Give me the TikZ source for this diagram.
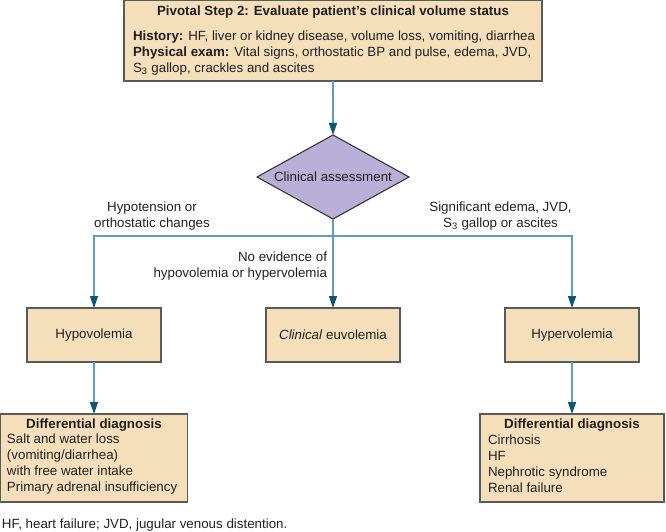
\documentclass[tikz,border=0pt]{standalone}
\usepackage{fontspec}
\setmainfont{Liberation Sans}
\usetikzlibrary{shapes.geometric,arrows.meta}
\definecolor{boxfill}{HTML}{F5DFBB}
\definecolor{boxline}{HTML}{5A5A5A}
\definecolor{dfill}{HTML}{B8B0D6}
\definecolor{lnc}{HTML}{5E9EBB}
\definecolor{headc}{HTML}{0D5775}
\definecolor{txt}{HTML}{231F20}
\newdimen\pxu \pxu=0.75pt
\begin{document}
\begin{tikzpicture}[x=0.75pt,y=-0.75pt,
  every node/.style={font=\fontsize{10}{12}\selectfont, text=txt, inner sep=0pt, outer sep=0pt},
  box/.style={draw=boxline, fill=boxfill, line width=0.8pt, rectangle},
  decision/.style={diamond, draw=black!80, fill=dfill, line width=0.8pt},
  flow/.style={draw=lnc, line width=1.1pt, -{Triangle[length=9pt,width=6pt,color=headc,fill=headc]}},
  plain/.style={draw=lnc, line width=1.1pt}]
\useasboundingbox (0,0) rectangle (666,531);

% boxes
\node[box, minimum width=418\pxu, minimum height=80.5\pxu] (top) at (333,40.75) {};
\node[decision, minimum width=152\pxu, minimum height=84\pxu] (assess) at (333,177) {};
\node[box, minimum width=134\pxu, minimum height=54\pxu] (hypo) at (94,335) {};
\node[box, minimum width=134\pxu, minimum height=54\pxu] (euvo) at (333,335) {};
\node[box, minimum width=134\pxu, minimum height=54\pxu] (hyper) at (572,335) {};
\node[box, minimum width=187\pxu, minimum height=88\pxu] (ddl) at (94,458) {};
\node[box, minimum width=184\pxu, minimum height=88\pxu] (ddr) at (572,458) {};

% texts in boxes
\node (toptitle) at (333,12) {\textbf{Pivotal Step 2: Evaluate patient’s clinical volume status}};
\node[anchor=west, align=left] (topbody) at (133,53) {\textbf{History:} HF, liver or kidney disease, volume loss, vomiting, diarrhea\\\textbf{Physical exam:} Vital signs, orthostatic BP and pulse, edema, JVD,\\S\textsubscript{3} gallop, crackles and ascites};
\node (assesstxt) at (assess) {Clinical assessment};
\node (hypotxt) at (hypo) {Hypovolemia};
\node (euvotxt) at (euvo) {\textit{Clinical} euvolemia};
\node (hypertxt) at (hyper) {Hypervolemia};
\node (ddltitle) at (94,425) {\textbf{Differential diagnosis}};
\node[anchor=west, align=left] (ddlbody) at (7,464) {Salt and water loss\\(vomiting/diarrhea)\\with free water intake\\Primary adrenal insufficiency};
\node (ddrtitle) at (572,425) {\textbf{Differential diagnosis}};
\node[anchor=west, align=left] (ddrbody) at (488,464) {Cirrhosis\\HF\\Nephrotic syndrome\\Renal failure};

% branch labels
\node[align=center] (lblleft) at (152,216) {Hypotension or\\orthostatic changes};
\node[align=center] (lblright) at (500.5,216) {Significant edema, JVD,\\S\textsubscript{3} gallop or ascites};
\node[anchor=east, align=right] (lblmid) at (327,266) {No evidence of\\hypovolemia or hypervolemia};

% footnote
\node[anchor=west] (foot) at (2,525) {HF, heart failure; JVD, jugular venous distention.};

% connectors
\coordinate (split) at (333,236);
\draw[flow] (top.south) -- (assess.north);
\draw[plain] (assess.south) -- (split);
\draw[flow] (split) -| (hypo.north);
\draw[flow] (split) -| (hyper.north);
\draw[flow] (split) -- (euvo.north);
\draw[flow] (hypo.south) -- (ddl.north);
\draw[flow] (hyper.south) -- (ddr.north);
\end{tikzpicture}
\end{document}
